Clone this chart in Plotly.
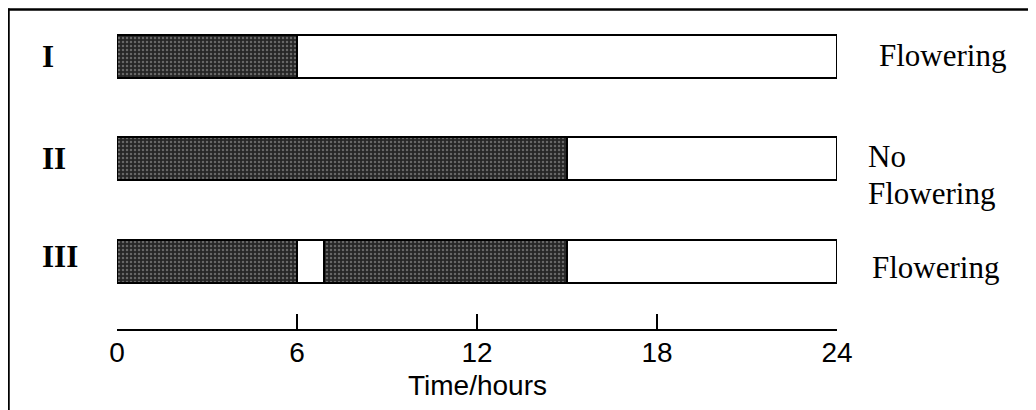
import plotly.graph_objects as go

# ---- data ----
treatments = ["I", "II", "III"]
day_length = 24
dark_starts = [[0], [0], [0, 6.9]]
dark_ends = [[6], [15], [6, 15]]
outcomes = ["Flowering", "No\nFlowering", "Flowering"]
tick_values = [0, 6, 12, 18, 24]
tick_labels = ["0", "6", "12", "18", "24"]
x_title = "Time/hours"

# the page body adds an 8px offset, so the figure is drawn 8px smaller
W, H = 1028, 402
L, R, T, B = 109, 199, 0, 81
plot_w = W - L - R
plot_h = H - T - B

fig = go.Figure()

# full 24-hour (light) bars
fig.add_trace(go.Bar(
    y=treatments, x=[day_length] * len(treatments), base=[0] * len(treatments),
    orientation="h", width=0.42,
    marker=dict(color="white", line=dict(color="black", width=2)),
    hoverinfo="skip", showlegend=False,
))

# dark periods
ys, xs, bases = [], [], []
for t, st, en in zip(treatments, dark_starts, dark_ends):
    for s, e in zip(st, en):
        ys.append(t)
        xs.append(e - s)
        bases.append(s)
fig.add_trace(go.Bar(
    y=ys, x=xs, base=bases, orientation="h", width=0.42,
    marker=dict(
        color="#262626",
        line=dict(color="black", width=2),
        pattern=dict(shape=".", fgcolor="#a8a8a8", size=4, solidity=0.3,
                     fillmode="overlay"),
    ),
    hoverinfo="skip", showlegend=False,
))

annotations = []
label_shift = [0, 0, 5]
for i, t in enumerate(treatments):
    annotations.append(dict(
        x=(32 - L) / plot_w, xref="paper", y=t, yref="y",
        text=t, showarrow=False, xanchor="left", yanchor="middle",
        yshift=label_shift[i],
        font=dict(family="Liberation Serif", size=31, color="black", weight="bold"),
    ))

out_x = [869, 858, 862]
out_shift = [1, 2, -6]
line_gap = 37
for i, (t, o) in enumerate(zip(treatments, outcomes)):
    for j, line in enumerate(o.split("\n")):
        annotations.append(dict(
            x=(out_x[i] - L) / plot_w, xref="paper", y=t, yref="y",
            text=line, showarrow=False, xanchor="left", yanchor="middle",
            yshift=out_shift[i] - j * line_gap,
            font=dict(family="Liberation Serif", size=31, color="black"),
        ))

# axis title
annotations.append(dict(
    x=0.5, xref="paper", y=(plot_h - 378) / plot_h, yref="paper",
    text=x_title, showarrow=False, xanchor="center", yanchor="middle",
    font=dict(family="Liberation Sans", size=28, color="black"),
))

shapes = [
    # top frame line
    dict(type="line", xref="paper", yref="paper",
         x0=(0 - L) / plot_w, x1=(W - L) / plot_w,
         y0=(plot_h - 1.5) / plot_h, y1=(plot_h - 1.5) / plot_h,
         line=dict(color="black", width=2.5)),
    # left frame line
    dict(type="line", xref="paper", yref="paper",
         x0=(0.5 - L) / plot_w, x1=(0.5 - L) / plot_w,
         y0=(plot_h - 0.5) / plot_h, y1=(plot_h - H) / plot_h,
         line=dict(color="black", width=2.5)),
]

fig.update_layout(
    width=W, height=H,
    margin=dict(l=L, r=R, t=T, b=B, pad=0),
    paper_bgcolor="white", plot_bgcolor="white",
    barmode="overlay", bargap=0,
    showlegend=False,
    annotations=annotations, shapes=shapes,
    xaxis=dict(
        range=[0, day_length], tickvals=tick_values, ticktext=tick_labels,
        showgrid=False, zeroline=False,
        showline=True, linecolor="black", linewidth=2,
        ticks="inside", ticklen=15, tickwidth=2, tickcolor="black",
        tickfont=dict(family="Liberation Sans", size=28, color="black"),
        ticklabelstandoff=-3,
        fixedrange=True,
    ),
    yaxis=dict(
        type="category", categoryarray=treatments,
        range=[2.659, -0.473], visible=False, fixedrange=True,
    ),
)

fig.write_html("out.html")
